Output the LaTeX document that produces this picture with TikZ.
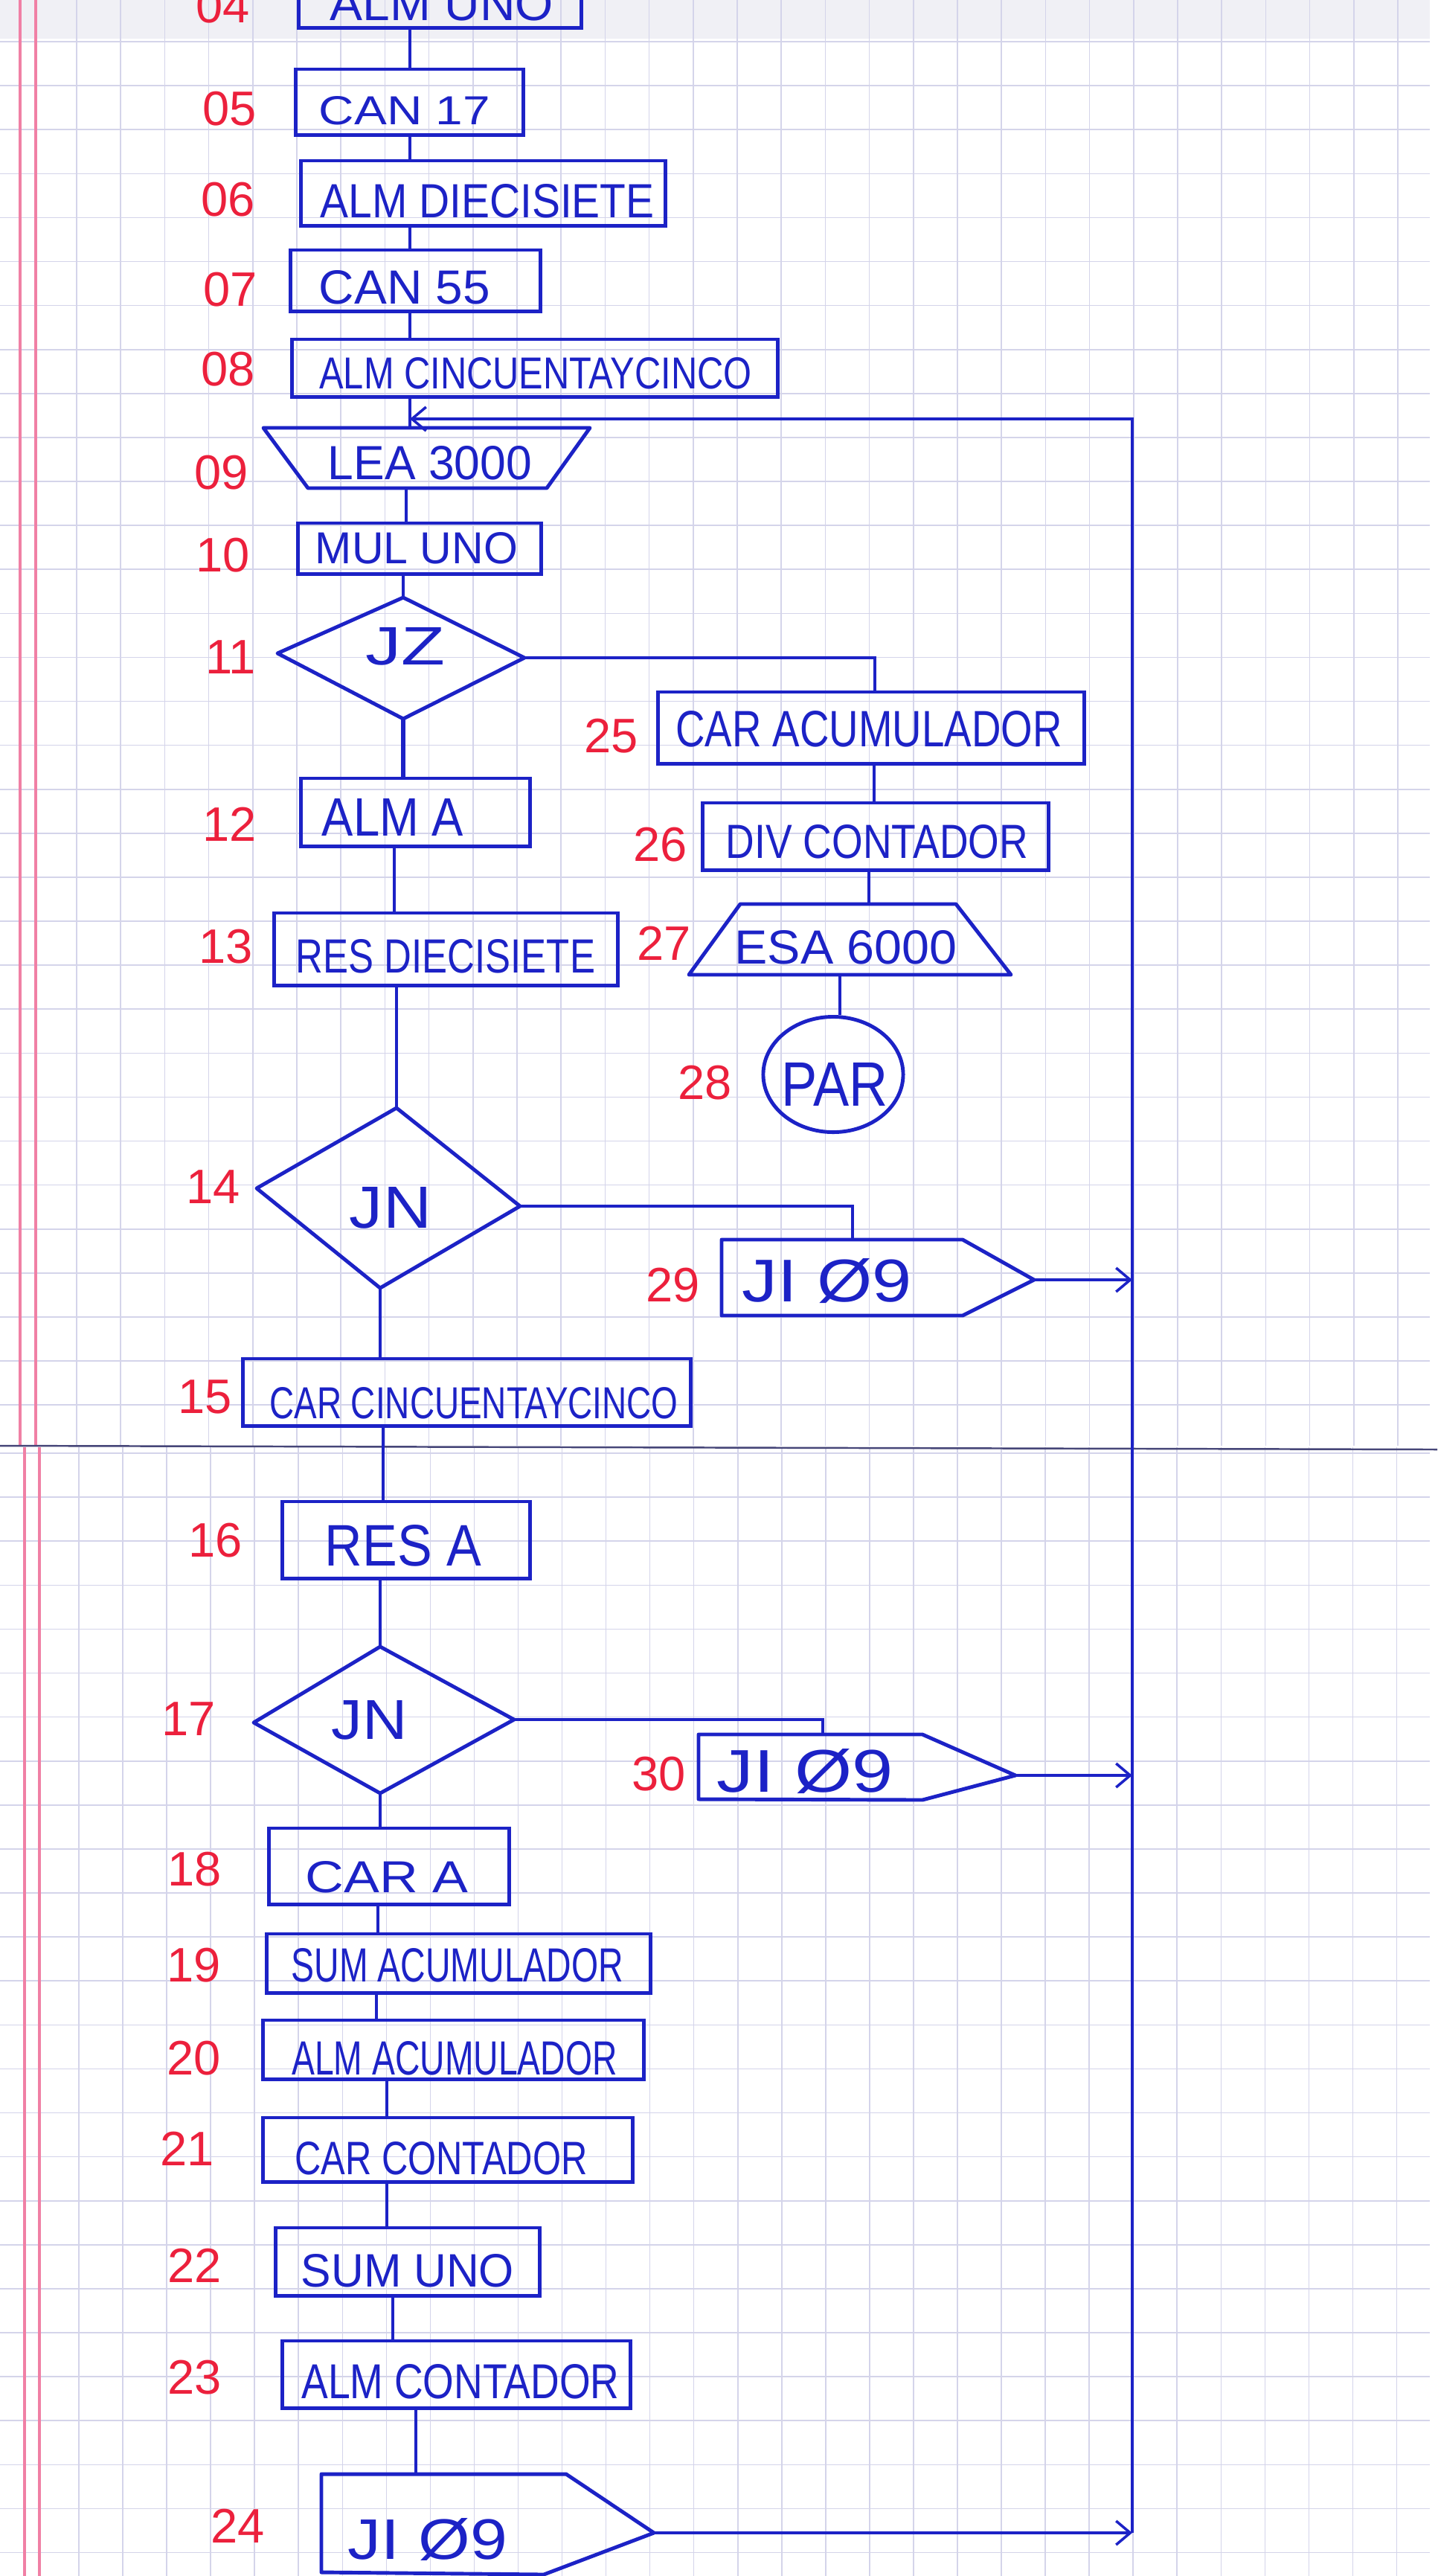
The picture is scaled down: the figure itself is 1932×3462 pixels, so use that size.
\documentclass[tikz,border=0pt]{standalone}
\usepackage{graphicx}
\usepackage{fontspec}
\setmainfont{Liberation Sans}
\usetikzlibrary{arrows.meta,shapes.geometric}
\definecolor{ink}{RGB}{28,34,198}
\definecolor{numred}{RGB}{236,32,60}
\definecolor{gridc}{RGB}{212,212,234}
\definecolor{margin}{RGB}{240,128,165}
\definecolor{band}{RGB}{240,240,245}
\definecolor{seam}{RGB}{70,70,120}
% handwritten-size text: width and cap height in cm
\newcommand\hw[3]{\resizebox{#1cm}{#2cm}{#3}}
\begin{document}
\begin{tikzpicture}[x=0.01cm, y=-0.01cm,
  box/.style={draw=ink, line width=1.4pt, inner sep=0pt, rectangle},
  shp/.style={draw=ink, line width=1.4pt, line join=round},
  conn/.style={draw=ink, line width=0.95pt},
  arr/.style={conn, -{Straight Barb[length=1.9mm,width=3.2mm,line width=1pt]}},
  txt/.style={text=ink, inner sep=0pt},
  num/.style={text=numred, inner sep=0pt, font=\fontsize{18.5}{20}\selectfont},
  gridline/.style={draw=gridc, line width=0.45pt},
  marginline/.style={draw=margin, line width=1.1pt}]
\useasboundingbox (0,0) rectangle (1932,3462);
\clip (0,0) rectangle (1932,3462);

% ---------- squared paper ----------
\fill[white] (0,0) rectangle (1932,3462);
\fill[band] (0,0) rectangle (1922,52);
\foreach \i in {0,...,30} {\draw[gridline] ({103+59.2*\i},0) -- ({103+59.2*\i},1943);}
\foreach \j in {0,...,31} {\draw[gridline] (0,{56+59.1*\j}) -- (1922,{56+59.1*\j});}
\foreach \i in {0,...,30} {\draw[gridline] ({106+59.05*\i},1945) -- ({106+59.05*\i},3462);}
\foreach \j in {0,...,25} {\draw[gridline] (0,{1953+59.1*\j}) -- (1922,{1953+59.1*\j});}
\draw[marginline] (27,0) -- (27,1943);
\draw[marginline] (48,0) -- (48,1943);
\draw[marginline] (33,1945) -- (33,3462);
\draw[marginline] (53,1945) -- (53,3462);
\draw[seam, line width=0.7pt] (0,1943) -- (1932,1948);

% ---------- column positions of the connectors ----------
\coordinate (k551) at (551,0);
\coordinate (k546) at (546,0);
\coordinate (k530) at (530,0);
\coordinate (k515) at (515,0);
\coordinate (k508) at (508,0);
\coordinate (k506) at (506,0);
\coordinate (k520) at (520,0);
\coordinate (k528) at (528,0);
\coordinate (k559) at (559,0);
\coordinate (k1176) at (1176,0);
\coordinate (k1175) at (1175,0);
\coordinate (k1168) at (1168,0);
\coordinate (k1129) at (1129,0);
\coordinate (k1146) at (1146,0);
\coordinate (k1106) at (1106,0);

% ---------- process boxes ----------
\node[box, minimum width=3.79cm, minimum height=0.87cm] (b04) at (591.5,-6.5) {};
\node[box, minimum width=3.05cm, minimum height=0.88cm] (b05) at (550.5,137) {};
\node[box, minimum width=4.89cm, minimum height=0.87cm] (b06) at (649.5,259.5) {};
\node[box, minimum width=3.35cm, minimum height=0.82cm] (b07) at (558.5,377) {};
\node[box, minimum width=6.52cm, minimum height=0.77cm] (b08) at (719,494.5) {};
\node[box, minimum width=3.26cm, minimum height=0.68cm] (b10) at (564,737) {};
\node[box, minimum width=3.07cm, minimum height=0.91cm] (b12) at (558.5,1091.5) {};
\node[box, minimum width=4.61cm, minimum height=0.97cm] (b13) at (599.5,1275.5) {};
\node[box, minimum width=6.01cm, minimum height=0.90cm] (b15) at (627.5,1871) {};
\node[box, minimum width=3.32cm, minimum height=1.03cm] (b16) at (546,2069.5) {};
\node[box, minimum width=3.22cm, minimum height=1.02cm] (b18) at (523,2508) {};
\node[box, minimum width=5.15cm, minimum height=0.79cm] (b19) at (616.5,2638.5) {};
\node[box, minimum width=5.11cm, minimum height=0.79cm] (b20) at (609.5,2754.5) {};
\node[box, minimum width=4.96cm, minimum height=0.86cm] (b21) at (602,2889) {};
\node[box, minimum width=3.54cm, minimum height=0.91cm] (b22) at (548,3039.5) {};
\node[box, minimum width=4.67cm, minimum height=0.90cm] (b23) at (613.5,3191) {};
\node[box, minimum width=5.72cm, minimum height=0.96cm] (b25) at (1171,978) {};
\node[box, minimum width=4.64cm, minimum height=0.90cm] (b26) at (1177,1124) {};

% ---------- input / output trapezoids ----------
\coordinate (q09a) at (354,575);
\coordinate (q09b) at (793,575);
\coordinate (q09c) at (735,656);
\coordinate (q09d) at (414,656);
\draw[shp] (q09a) -- (q09b) -- (q09c) -- (q09d) -- cycle;
\coordinate (q27a) at (995,1215);
\coordinate (q27b) at (1285,1215);
\coordinate (q27c) at (1359,1310);
\coordinate (q27d) at (926,1310);
\draw[shp] (q27a) -- (q27b) -- (q27c) -- (q27d) -- cycle;

% ---------- decisions ----------
\coordinate (d11t) at (542,803);
\coordinate (d11l) at (373,878);
\coordinate (d11r) at (705,884);
\coordinate (d11b) at (542,966);
\draw[shp] (d11t) -- (d11r) -- (d11b) -- (d11l) -- cycle;
\coordinate (d14t) at (533,1489);
\coordinate (d14l) at (345,1597);
\coordinate (d14r) at (699,1621);
\coordinate (d14b) at (511,1731);
\draw[shp] (d14t) -- (d14r) -- (d14b) -- (d14l) -- cycle;
\coordinate (d17t) at (511,2213);
\coordinate (d17l) at (341,2315);
\coordinate (d17r) at (691,2311);
\coordinate (d17b) at (511,2410);
\draw[shp] (d17t) -- (d17r) -- (d17b) -- (d17l) -- cycle;

% ---------- jumps (off-page connectors) ----------
\coordinate (j29a) at (970,1666);
\coordinate (j29b) at (1294,1666);
\coordinate (j29tip) at (1390,1720);
\coordinate (j29c) at (1294,1768);
\coordinate (j29d) at (970,1768);
\draw[shp] (j29a) -- (j29b) -- (j29tip) -- (j29c) -- (j29d) -- cycle;
\coordinate (j30a) at (939,2331);
\coordinate (j30b) at (1240,2331);
\coordinate (j30tip) at (1365,2386);
\coordinate (j30c) at (1240,2419);
\coordinate (j30d) at (939,2418);
\draw[shp] (j30a) -- (j30b) -- (j30tip) -- (j30c) -- (j30d) -- cycle;
\coordinate (j24a) at (432,3325);
\coordinate (j24b) at (761,3325);
\coordinate (j24tip) at (879,3404);
\coordinate (j24c) at (731,3460);
\coordinate (j24d) at (432,3457);
\draw[shp] (j24a) -- (j24b) -- (j24tip) -- (j24c) -- (j24d) -- cycle;

% ---------- terminator ----------
\node[draw=ink, line width=1.4pt, ellipse, inner sep=0pt,
      minimum width=1.88cm, minimum height=1.55cm] (p28) at (1120,1444) {};

% ---------- texts ----------
\node[txt] (t04) at (594,5) {\hw{3.00}{0.45}{ALM UNO}};
\node[txt] (t05) at (544,149) {\hw{2.30}{0.38}{CAN 17}};
\node[txt] (t06) at (655,270) {\hw{4.49}{0.45}{ALM DIECISIETE}};
\node[txt] (t07) at (544,386) {\hw{2.30}{0.45}{CAN 55}};
\node[txt] (t08) at (720,502) {\hw{5.81}{0.42}{ALM CINCUENTAYCINCO}};
\node[txt] (t09) at (578,622) {\hw{2.74}{0.45}{LEA 3000}};
\node[txt] (t10) at (560,737) {\hw{2.72}{0.42}{MUL UNO}};
\node[txt] (t11) at (545,869) {\hw{1.07}{0.50}{JZ}};
\node[txt] (t25) at (1168,980) {\hw{5.19}{0.48}{CAR ACUMULADOR}};
\node[txt] (t26) at (1179,1131) {\hw{4.06}{0.45}{DIV CONTADOR}};
\node[txt] (t12) at (528,1098) {\hw{1.90}{0.50}{ALM A}};
\node[txt] (t13) at (599,1285) {\hw{4.02}{0.45}{RES DIECISIETE}};
\node[txt] (t27) at (1137,1273) {\hw{2.99}{0.45}{ESA 6000}};
\node[txt] (t28) at (1122,1457) {\hw{1.43}{0.58}{PAR}};
\node[txt] (t14) at (525,1623) {\hw{1.10}{0.55}{JN}};
\node[txt] (t29) at (1112,1722) {\hw{2.28}{0.58}{JI Ø9}};
\node[txt] (t15) at (637,1886) {\hw{5.49}{0.42}{CAR CINCUENTAYCINCO}};
\node[txt] (t16) at (542,2077) {\hw{2.10}{0.55}{RES A}};
\node[txt] (t17) at (497,2312) {\hw{1.02}{0.52}{JN}};
\node[txt] (t30) at (1082,2380) {\hw{2.37}{0.58}{JI Ø9}};
\node[txt] (t18) at (520,2523) {\hw{2.19}{0.42}{CAR A}};
\node[txt] (t19) at (615,2641) {\hw{4.46}{0.45}{SUM ACUMULADOR}};
\node[txt] (t20) at (611,2766) {\hw{4.37}{0.45}{ALM ACUMULADOR}};
\node[txt] (t21) at (593,2901) {\hw{3.93}{0.44}{CAR CONTADOR}};
\node[txt] (t22) at (548,3052) {\hw{2.86}{0.44}{SUM UNO}};
\node[txt] (t23) at (619,3201) {\hw{4.27}{0.46}{ALM CONTADOR}};
\node[txt] (t24) at (575,3413) {\hw{2.14}{0.55}{JI Ø9}};

% ---------- line numbers ----------
\node[num] (n04) at (300,8) {04};
\node[num] (n05) at (309,146) {05};
\node[num] (n06) at (307,268) {06};
\node[num] (n07) at (310,389) {07};
\node[num] (n08) at (307,496) {08};
\node[num] (n09) at (298,635) {09};
\node[num] (n10) at (300,746) {10};
\node[num] (n11) at (310,883) {11};
\node[num] (n12) at (309,1108) {12};
\node[num] (n13) at (304,1272) {13};
\node[num] (n14) at (287,1595) {14};
\node[num] (n15) at (276,1877) {15};
\node[num] (n16) at (290,2070) {16};
\node[num] (n17) at (254,2310) {17};
\node[num] (n18) at (262,2512) {18};
\node[num] (n19) at (261,2641) {19};
\node[num] (n20) at (261,2766) {20};
\node[num] (n21) at (252,2888) {21};
\node[num] (n22) at (262,3045) {22};
\node[num] (n23) at (262,3195) {23};
\node[num] (n24) at (320,3395) {24};
\node[num] (n25) at (822,989) {25};
\node[num] (n26) at (888,1135) {26};
\node[num] (n27) at (893,1268) {27};
\node[num] (n28) at (948,1455) {28};
\node[num] (n29) at (905,1727) {29};
\node[num] (n30) at (886,2384) {30};

% ---------- main sequence ----------
\draw[conn] (b04.south -| k551) -- (b05.north -| k551);
\draw[conn] (b05.south -| k551) -- (b06.north -| k551);
\draw[conn] (b06.south -| k551) -- (b07.north -| k551);
\draw[conn] (b07.south -| k551) -- (b08.north -| k551);
\draw[conn] (b08.south -| k551) -- (q09a -| k551);
\draw[conn] (q09d -| k546) -- (b10.north -| k546);
\draw[conn] (b10.south -| d11t) -- (d11t);
\draw[conn, line width=1.7pt] (d11b) -- (d11b |- b12.north);
\draw[conn] (b12.south -| k530) -- (b13.north -| k530);
\draw[conn] (b13.south -| d14t) -- (d14t);
\draw[conn] (d14b) -- (d14b |- b15.north);
\draw[conn] (b15.south -| k515) -- (b16.north -| k515);
\draw[conn] (b16.south -| d17t) -- (d17t);
\draw[conn] (d17b) -- (d17b |- b18.north);
\draw[conn] (b18.south -| k508) -- (b19.north -| k508);
\draw[conn] (b19.south -| k506) -- (b20.north -| k506);
\draw[conn] (b20.south -| k520) -- (b21.north -| k520);
\draw[conn] (b21.south -| k520) -- (b22.north -| k520);
\draw[conn] (b22.south -| k528) -- (b23.north -| k528);
\draw[conn] (b23.south -| k559) -- (j24a -| k559);

% ---------- branch of JZ ----------
\draw[conn] (d11r) -| (b25.north -| k1176);
\draw[conn] (b25.south -| k1175) -- (b26.north -| k1175);
\draw[conn] (b26.south -| k1168) -- (q27a -| k1168);
\draw[conn] (q27d -| k1129) -- (p28.north -| k1129);

% ---------- branches of JN ----------
\draw[conn] (d14r) -| (j29a -| k1146);
\draw[conn] (d17r) -| (j30a -| k1106);

% ---------- return loop to 09 ----------
\coordinate (lt) at (1522,563);
\coordinate (lb) at (1522,3404);
\draw[arr] (j29tip) -- (j29tip -| lt);
\draw[arr] (j30tip) -- (j30tip -| lt);
\draw[arr] (j24tip) -- (lb);
\draw[arr] (lb) -- (lt) -- (lt -| k551);
\end{tikzpicture}
\end{document}
